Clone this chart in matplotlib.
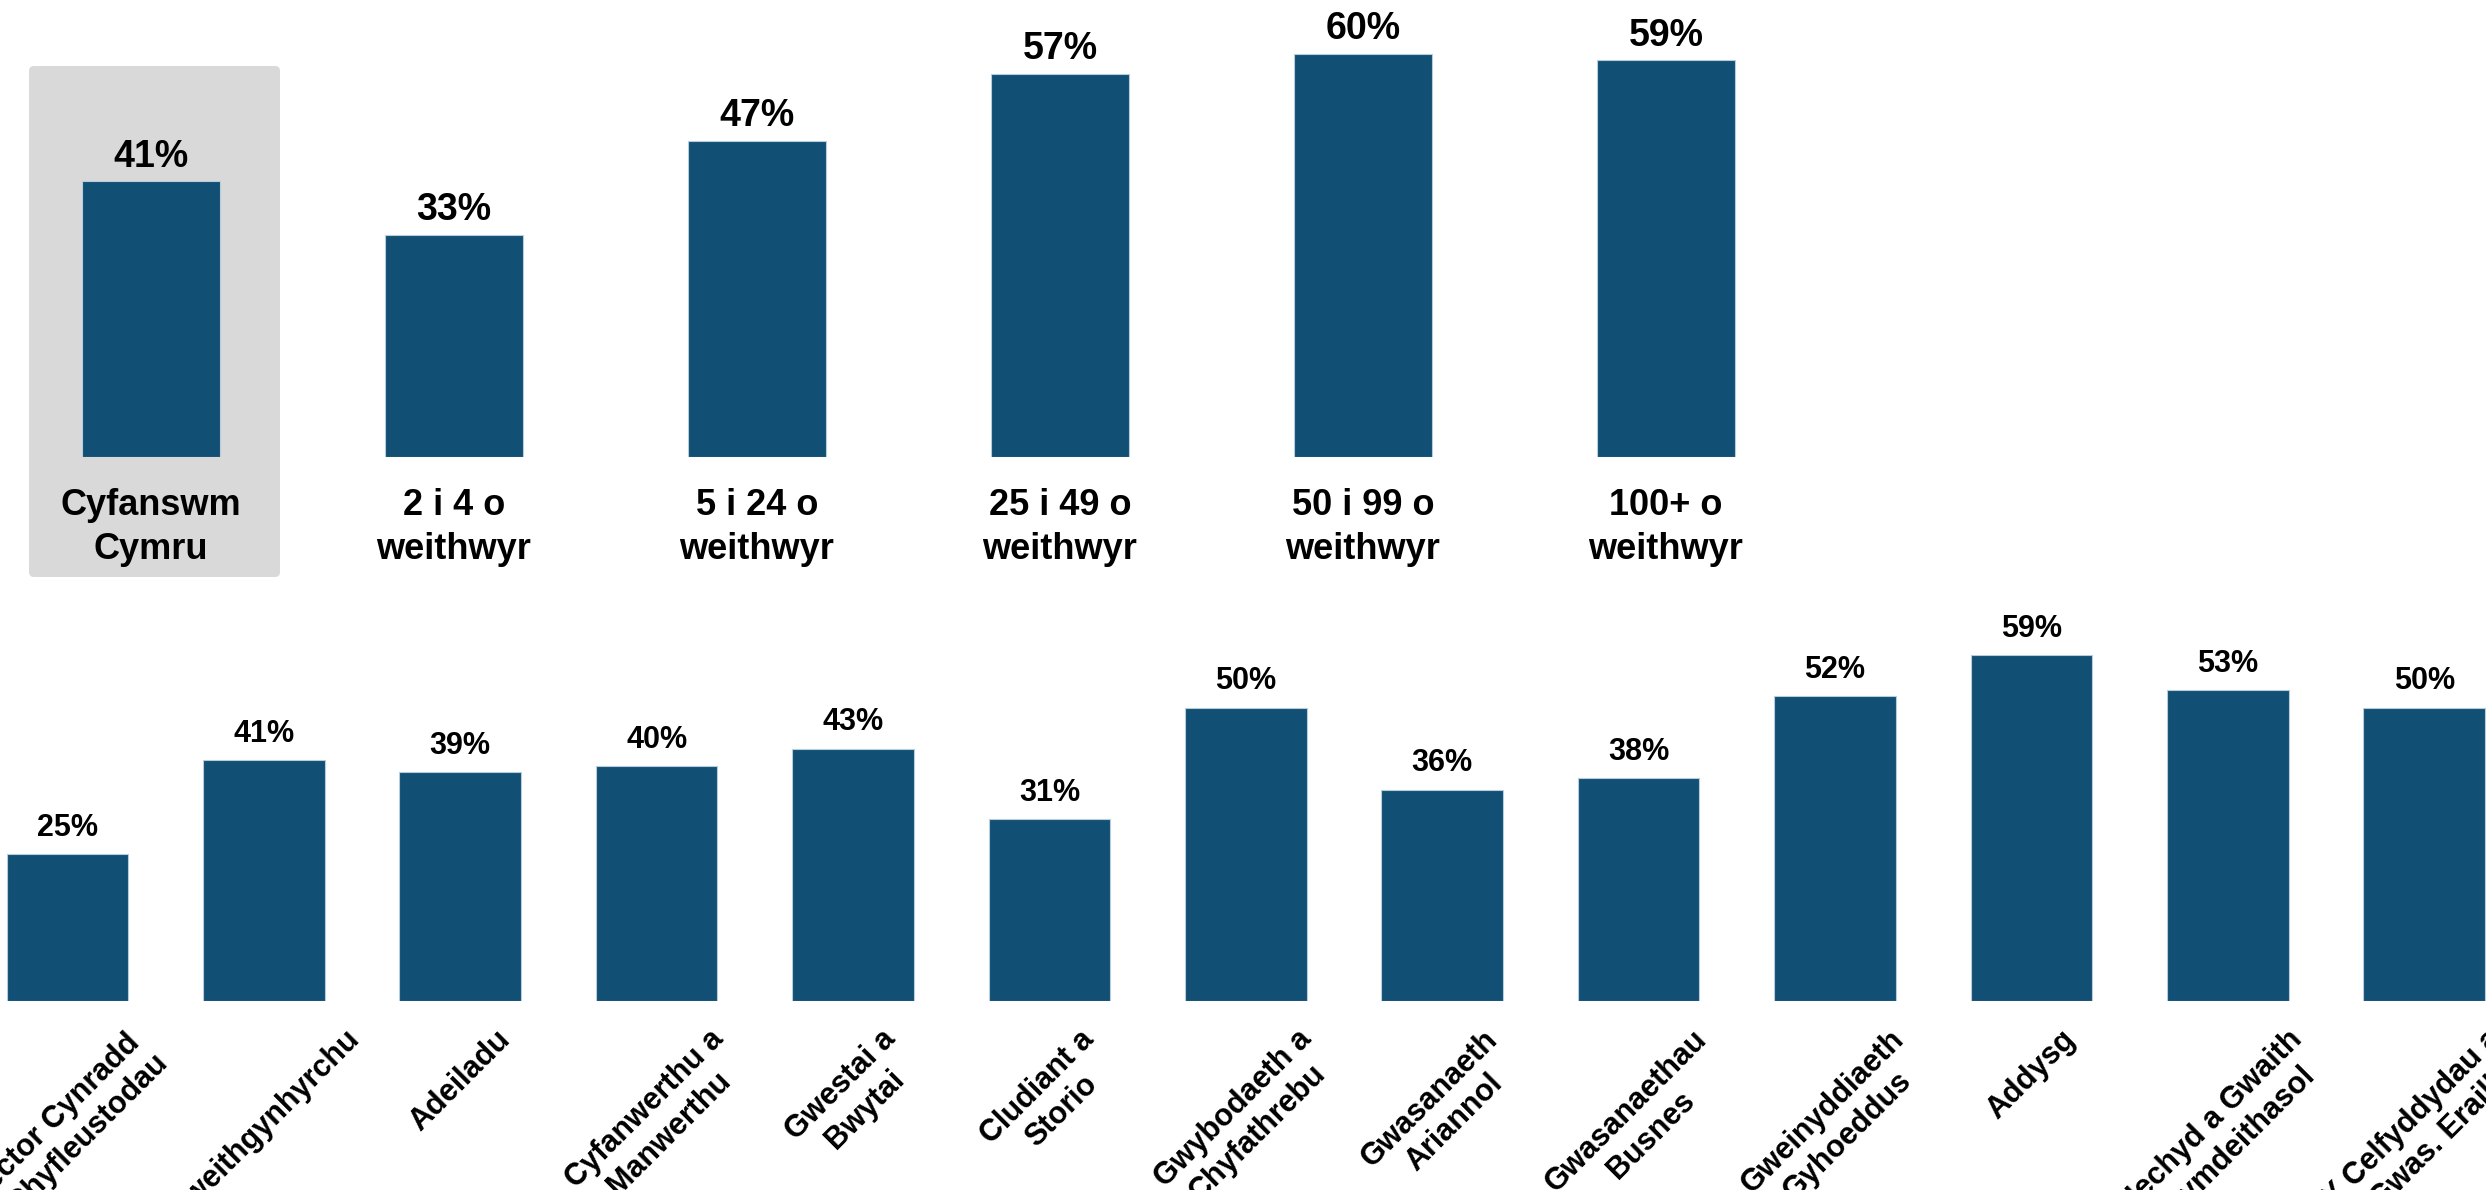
import matplotlib
matplotlib.use("Agg")
import matplotlib.pyplot as plt
from matplotlib.patches import FancyBboxPatch

plt.rcParams['font.family'] = ['Liberation Sans', 'DejaVu Sans']

# ---- data ----
size_labels = ["Cyfanswm\nCymru", "2 i 4 o\nweithwyr", "5 i 24 o\nweithwyr",
               "25 i 49 o\nweithwyr", "50 i 99 o\nweithwyr", "100+ o\nweithwyr"]
size_values = [41, 33, 47, 57, 60, 59]

sector_labels = ["Sector Cynradd\na Chyfleustodau", "Gweithgynhyrchu", "Adeiladu",
                 "Cyfanwerthu a\nManwerthu", "Gwestai a\nBwytai", "Cludiant a\nStorio",
                 "Gwybodaeth a\nChyfathrebu", "Gwasanaeth\nAriannol", "Gwasanaethau\nBusnes",
                 "Gweinyddiaeth\nGyhoeddus", "Addysg", "Iechyd a Gwaith\nCymdeithasol",
                 "Y Celfyddydau a\nGwas. Eraill"]
sector_values = [25, 41, 39, 40, 43, 31, 50, 36, 38, 52, 59, 53, 50]

BAR = '#124F75'
EDGE = '#b8cddb'

W, H = 2486, 1190
fig = plt.figure(figsize=(W / 100, H / 100), dpi=100)

# grey highlight box behind the "Cyfanswm Cymru" bar
box = FancyBboxPatch((29 / 100, (H - 577) / 100), 251 / 100, 511 / 100,
                     boxstyle="round,pad=0,rounding_size=0.05",
                     transform=fig.dpi_scale_trans, facecolor='#d9d9d9',
                     edgecolor='none', zorder=-5)
fig.patches.append(box)

# ---- top panel ----
ax1 = fig.add_axes([0, 1 - 457 / H, 1, 457 / H])
ax1.set_zorder(2)
ax1.patch.set_visible(False)
x1 = list(range(len(size_values)))
b1 = ax1.bar(x1, size_values, width=0.455, color=BAR, edgecolor=EDGE, linewidth=0.8)
ax1.bar_label(b1, labels=[f"{v}%" for v in size_values], padding=5,
              fontsize=27, fontweight='bold')
ax1.set_xlim(-151 / 303, (W - 151) / 303)
ax1.set_ylim(0, 68.0)
ax1.set_xticks(x1)
ax1.set_xticklabels(size_labels, fontsize=26, fontweight='bold', linespacing=1.35)
ax1.tick_params(axis='x', length=0, pad=22)
ax1.set_yticks([])
for s in ax1.spines.values():
    s.set_visible(False)

# ---- bottom panel ----
ax2 = fig.add_axes([0, 1 - 1000.5 / H, 1, 400 / H])
ax2.set_zorder(2)
ax2.patch.set_visible(False)
x2 = list(range(len(sector_values)))
b2 = ax2.bar(x2, sector_values, width=0.62, color=BAR, edgecolor=EDGE, linewidth=0.8)
ax2.bar_label(b2, labels=[f"{v}%" for v in sector_values], padding=8,
              fontsize=22, fontweight='bold')
ax2.set_xlim(-67.4 / 196.4, (W - 67.4) / 196.4)
ax2.set_ylim(0, 400 / 5.86)
ax2.set_xticks(x2)
ax2.set_xticklabels(sector_labels, fontsize=22, fontweight='bold', rotation=45,
                    linespacing=1.2)
ax2.tick_params(axis='x', length=0, pad=17)
ax2.set_yticks([])
for s in ax2.spines.values():
    s.set_visible(False)

fig.savefig("out.png", dpi=100, facecolor='white')
